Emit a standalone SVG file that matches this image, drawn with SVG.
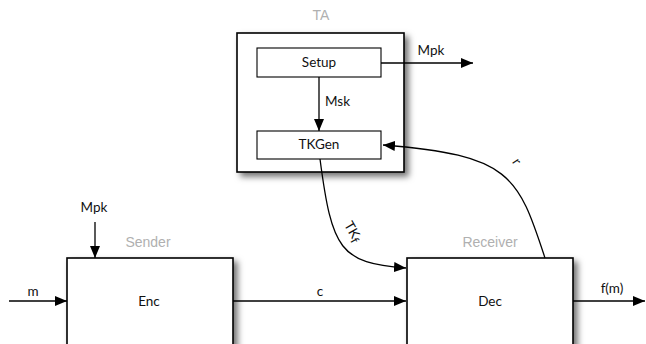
<svg xmlns="http://www.w3.org/2000/svg" width="646" height="344" viewBox="0 0 646 344">
  <style>
    .box { fill: #fff; stroke: #000; stroke-width: 1.6; }
    .sub { fill: #fff; stroke: #000; stroke-width: 1.1; }
    .lbl { font-family: Lato, "Open Sans", sans-serif; font-size: 13.5px; fill: #111; }
    .grp { font-family: "Liberation Sans", Arial, sans-serif; font-size: 14px; fill: #b0b0b0; }
    .wire { fill: none; stroke: #000; stroke-width: 1.3; }
  </style>
  <defs>
    <filter id="shadow" x="-10%" y="-10%" width="130%" height="130%">
      <feDropShadow dx="4" dy="4" stdDeviation="3" flood-color="#000" flood-opacity="0.55"/>
    </filter>
    <marker id="arrow" viewBox="0 0 12 10" refX="12" refY="5" markerWidth="12" markerHeight="10" markerUnits="userSpaceOnUse" orient="auto">
      <path d="M0,0 L12,5 L0,10 Z" fill="#000"/>
    </marker>
  </defs>

  <!-- Trusted authority -->
  <g id="ta">
    <text class="grp" x="321" y="20" text-anchor="middle">TA</text>
    <rect class="box" x="237" y="33" width="167" height="139" filter="url(#shadow)"/>
  </g>
  <g id="setup">
    <rect class="sub" x="257" y="48" width="124" height="29"/>
    <text class="lbl" x="319" y="67" text-anchor="middle">Setup</text>
  </g>
  <g id="tkgen">
    <rect class="sub" x="257" y="131" width="124" height="28"/>
    <text class="lbl" x="319" y="149" text-anchor="middle">TKGen</text>
  </g>

  <!-- Sender -->
  <g id="enc">
    <text class="grp" x="148" y="247" text-anchor="middle">Sender</text>
    <rect class="box" x="67" y="258" width="166" height="110" filter="url(#shadow)"/>
    <text class="lbl" x="149" y="306" text-anchor="middle">Enc</text>
  </g>

  <!-- Receiver -->
  <g id="dec">
    <text class="grp" x="490" y="247" text-anchor="middle">Receiver</text>
    <rect class="box" x="407" y="258" width="166" height="110" filter="url(#shadow)"/>
    <text class="lbl" x="490" y="306" text-anchor="middle">Dec</text>
  </g>

  <!-- Connectors -->
  <g id="connectors">
    <path class="wire" d="M381,63 L473,63" marker-end="url(#arrow)"/>
    <text class="lbl" x="431" y="55" text-anchor="middle">Mpk</text>

    <path class="wire" d="M319,77 L319,131" marker-end="url(#arrow)"/>
    <text class="lbl" x="325" y="106">Msk</text>

    <path class="wire" d="M95,222 L95,258" marker-end="url(#arrow)"/>
    <text class="lbl" x="94" y="212" text-anchor="middle">Mpk</text>

    <path class="wire" d="M9,301 L67,301" marker-end="url(#arrow)"/>
    <text class="lbl" x="33" y="296" text-anchor="middle">m</text>

    <path class="wire" d="M233,301 L406,301" marker-end="url(#arrow)"/>
    <text class="lbl" x="320" y="296" text-anchor="middle">c</text>

    <path class="wire" d="M573,301 L645,301" marker-end="url(#arrow)"/>
    <text class="lbl" x="612" y="293" text-anchor="middle">f(m)</text>

    <path class="wire" d="M320,159 C332,250 340,263 406,268" marker-end="url(#arrow)"/>
    <text class="lbl" transform="translate(349,234) rotate(60)" text-anchor="middle">TK<tspan font-size="12" dy="2.5">f</tspan></text>

    <path class="wire" d="M545,258 C518,175 510,155 383,145" marker-end="url(#arrow)"/>
    <text class="lbl" transform="translate(513,164) rotate(56)" text-anchor="middle">r</text>
  </g>
</svg>
